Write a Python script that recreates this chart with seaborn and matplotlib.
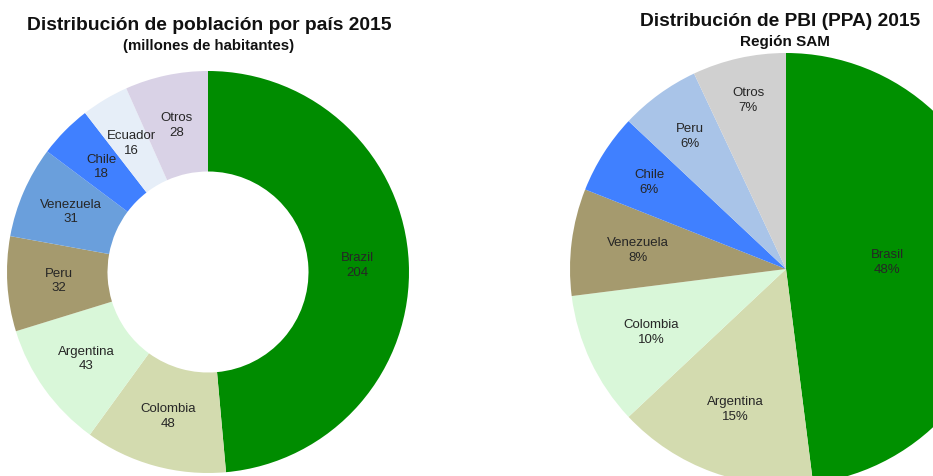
import numpy as np
import matplotlib
matplotlib.use("Agg")
import matplotlib.pyplot as plt
import seaborn as sns

# Left chart: population (millions)
pop_countries = ['Brazil', 'Colombia', 'Argentina', 'Peru', 'Venezuela', 'Chile', 'Ecuador', 'Otros']
pop_values = [204, 48, 43, 32, 31, 18, 16, 28]
pop_colors = ['#008C00', '#D3DBAF', '#D9F7D9', '#A59A6E', '#6A9FDC', '#4080FF', '#E6EEF8', '#D9D2E6']

# Right chart: GDP share (%)
gdp_countries = ['Brasil', 'Argentina', 'Colombia', 'Venezuela', 'Chile', 'Peru', 'Otros']
gdp_values = [48, 15, 10, 8, 6, 6, 7]
gdp_colors = ['#009000', '#D3DBAF', '#D9F7D9', '#A59A6E', '#4080FF', '#A9C4E8', '#D0D0D0']
gdp_label_dist = [0.47, 0.69, 0.69, 0.69, 0.75, 0.76, 0.8]

sns.set_theme(style="white")
plt.rcParams['font.family'] = ['Liberation Sans', 'DejaVu Sans']

W, H = 933, 476
fig = plt.figure(figsize=(W / 100, H / 100), dpi=100)
ax = fig.add_axes([0, 0, 1, 1])

def place_labels(wedges, names, vals, fmt, dists, center, radius):
    for w, name, v, d in zip(wedges, names, vals, dists):
        ang = np.deg2rad((w.theta1 + w.theta2) / 2)
        x = center[0] + d * radius * np.cos(ang)
        y = center[1] + d * radius * np.sin(ang)
        ax.text(x, y, f"{name}\n{fmt(v)}", ha='center', va='center',
                fontsize=9.5, color='#262626', linespacing=1.3)

# Donut
c1, r1 = (208, H - 272), 201
w1, _ = ax.pie(pop_values, colors=pop_colors, startangle=90, counterclock=False,
               center=c1, radius=r1, wedgeprops=dict(width=r1 * 0.5, linewidth=0))
place_labels(w1, pop_countries, pop_values, lambda v: f"{v}", [0.745] * len(pop_values), c1, r1)

# Pie
c2, r2 = (786, H - 269), 216
w2, _ = ax.pie(gdp_values, colors=gdp_colors, startangle=90, counterclock=False,
               center=c2, radius=r2, wedgeprops=dict(linewidth=0))
place_labels(w2, gdp_countries, gdp_values, lambda v: f"{v}%", gdp_label_dist, c2, r2)

ax.set_xlim(0, W)
ax.set_ylim(0, H)
ax.set_aspect('equal')
ax.axis('off')

ax.text(209, H - 25, "Distribución de población por país 2015", ha='center', va='center',
        fontsize=13.9, fontweight='bold', color='#111111')
ax.text(209, H - 46, "(millones de habitantes)", ha='center', va='center',
        fontsize=10.8, fontweight='bold', color='#111111')
ax.text(780, H - 21, "Distribución de PBI (PPA) 2015", ha='center', va='center',
        fontsize=13.8, fontweight='bold', color='#111111')
ax.text(785, H - 42, "Región SAM", ha='center', va='center',
        fontsize=11, fontweight='bold', color='#111111')

fig.savefig("out.png", dpi=100)
